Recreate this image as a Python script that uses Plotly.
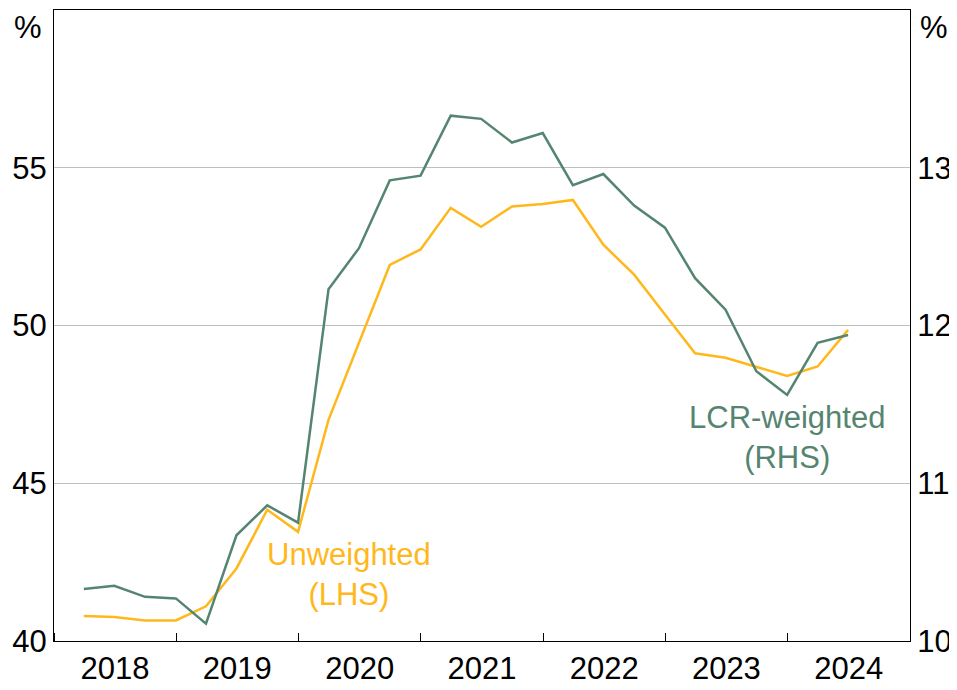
import plotly.graph_objects as go

dates = ["2018-03-31", "2018-06-30", "2018-09-30", "2018-12-31",
         "2019-03-31", "2019-06-30", "2019-09-30", "2019-12-31",
         "2020-03-31", "2020-06-30", "2020-09-30", "2020-12-31",
         "2021-03-31", "2021-06-30", "2021-09-30", "2021-12-31",
         "2022-03-31", "2022-06-30", "2022-09-30", "2022-12-31",
         "2023-03-31", "2023-06-30", "2023-09-30", "2023-12-31",
         "2024-03-31", "2024-06-30"]

unweighted_lhs = [40.79, 40.76, 40.65, 40.65, 41.10, 42.30, 44.16, 43.46,
                  47.01, 49.42, 51.92, 52.41, 53.73, 53.13, 53.77, 53.85,
                  53.98, 52.56, 51.61, 50.35, 49.12, 48.98, 48.69, 48.40,
                  48.70, 49.86]

lcr_weighted_rhs = [10.33, 10.35, 10.28, 10.27, 10.11, 10.67, 10.86, 10.75,
                    12.23, 12.49, 12.92, 12.95, 13.33, 13.31, 13.16, 13.22,
                    12.89, 12.96, 12.76, 12.62, 12.30, 12.10, 11.71, 11.56,
                    11.89, 11.94]

left_ticks = [40, 45, 50, 55]
right_ticks = [10, 11, 12, 13]

YELLOW = "#FFB81C"
GREEN = "#558570"
FONT = "Arial, Liberation Sans, sans-serif"

fig = go.Figure()
fig.add_trace(go.Scatter(x=dates, y=unweighted_lhs, mode="lines",
                         line=dict(color=YELLOW, width=2.5), yaxis="y",
                         name="Unweighted (LHS)"))
fig.add_trace(go.Scatter(x=dates, y=lcr_weighted_rhs, mode="lines",
                         line=dict(color=GREEN, width=2.5), yaxis="y2",
                         name="LCR-weighted (RHS)"))

fig.update_layout(
    width=957, height=690,
    margin=dict(l=46, r=55, t=2, b=57),
    paper_bgcolor="white", plot_bgcolor="white",
    showlegend=False,
    font=dict(family=FONT, size=31, color="black"),
    xaxis=dict(type="date", range=["2018-01-01", "2025-01-01"],
               tick0="2018-01-01", dtick="M12", tickformat="%Y",
               ticklabelmode="period", ticks="inside", ticklen=8,
               tickcolor="black", tickwidth=1, automargin=False,
               showline=True, linecolor="black", linewidth=1, mirror=True,
               showgrid=False, zeroline=False),
    yaxis=dict(range=[40, 60], tickvals=left_ticks, showgrid=True,
               gridcolor="#BFBFBF", gridwidth=1, ticks="", automargin=False,
               showline=True, linecolor="black", linewidth=1,
               zeroline=False),
    yaxis2=dict(range=[10, 14], tickvals=right_ticks, overlaying="y",
                side="right", showgrid=False, ticks="", automargin=False,
                showline=True, linecolor="black", linewidth=1,
                zeroline=False),
)

fig.add_annotation(xref="paper", yref="paper", x=-0.0304, y=0.9715,
                   text="%", showarrow=False, xanchor="center", yanchor="middle",
                   font=dict(size=31, color="black"))
fig.add_annotation(xref="paper", yref="paper", x=1.028, y=0.9715,
                   text="%", showarrow=False, xanchor="center", yanchor="middle",
                   font=dict(size=31, color="black"))
fig.add_annotation(xref="paper", yref="paper", x=0.3446, y=0.1046,
                   text="Unweighted<br>(LHS)", showarrow=False,
                   xanchor="center", yanchor="middle", align="center",
                   font=dict(size=31, color=YELLOW))
fig.add_annotation(xref="paper", yref="paper", x=0.856, y=0.3225,
                   text="LCR-weighted<br>(RHS)", showarrow=False,
                   xanchor="center", yanchor="middle", align="center",
                   font=dict(size=31, color=GREEN))

fig.write_html("out.html")
